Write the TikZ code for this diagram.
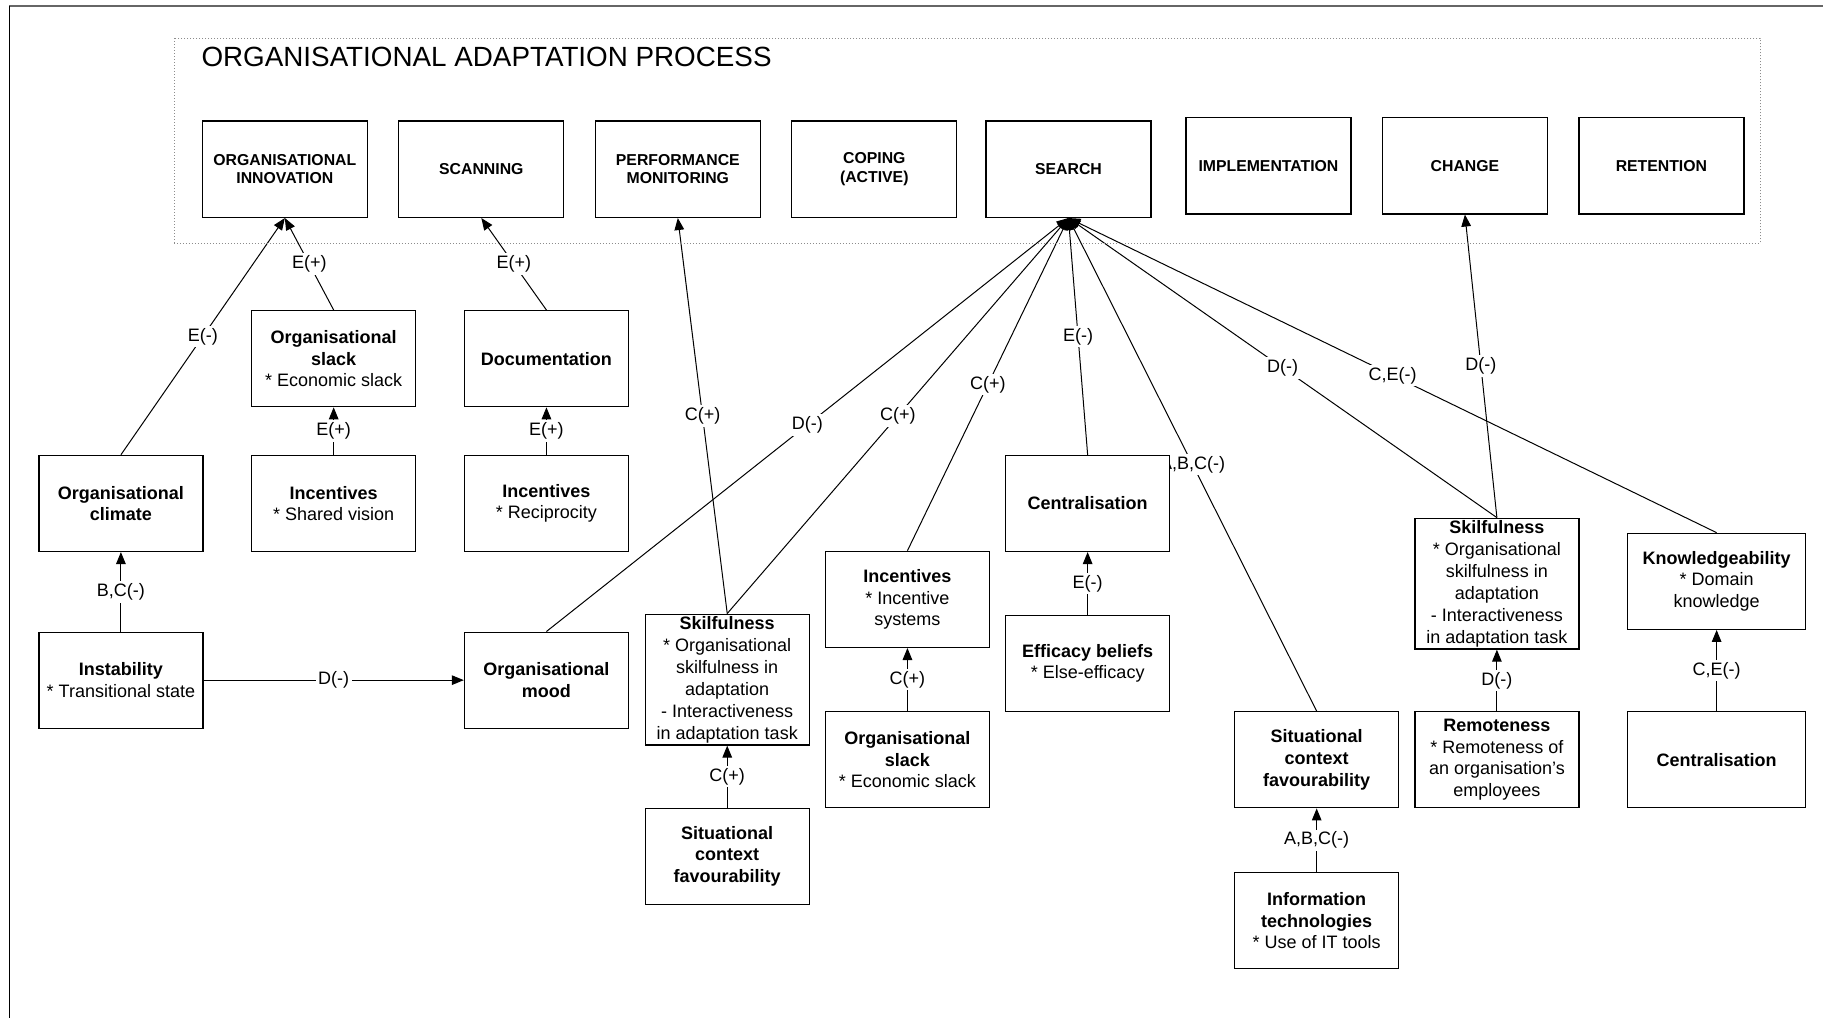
\documentclass[tikz,border=0pt]{standalone}
\usepackage{fontspec}
\setmainfont{Liberation Sans}
\usepackage{tikz}
\usetikzlibrary{arrows.meta,backgrounds}

\tikzset{
  stage/.style={draw, fill=white, line width=0.65pt, align=center, inner sep=1pt,
    minimum width=82.5pt, minimum height=48.2pt, font=\fontsize{7.9}{9.3}\selectfont\bfseries},
  factor/.style={draw, fill=white, line width=0.65pt, align=center, inner sep=1pt,
    minimum width=82pt, minimum height=48pt, font=\fontsize{9}{10.8}\selectfont},
  tallfactor/.style={factor, minimum height=64.3pt, font=\fontsize{9}{11}\selectfont},
  widefactor/.style={factor, minimum width=89pt},
  link/.style={line width=0.5pt, -{Triangle[length=6pt,width=4.8pt]}},
  lbl/.style={fill=white, inner sep=1.2pt, font=\fontsize{9}{10}\selectfont}
}

\begin{document}
\begin{tikzpicture}[x=0.5813pt,y=-0.5813pt]
\useasboundingbox (0,0) rectangle (1568,876);
\draw[black!60, line width=1.1pt] (8,5) -- (1568,5);
\draw[line width=0.6pt] (8,5) -- (8,876);
\draw[densely dotted, black!45, line width=0.5pt] (150,33) rectangle (1514,209);
\node[anchor=west, inner sep=0pt, font=\fontsize{13.9}{16}\selectfont] (title) at (173,49) {ORGANISATIONAL ADAPTATION PROCESS};

\node[stage] (innov) at (245,145.5) {ORGANISATIONAL\\INNOVATION};
\node[stage] (scan) at (414,145.5) {SCANNING};
\node[stage] (perf) at (583,145.5) {PERFORMANCE\\MONITORING};
\node[stage] (coping) at (752,145.5) {COPING\\(ACTIVE)};
\node[stage] (search) at (919,145.5) {SEARCH};
\node[stage] (impl) at (1091,142.5) {IMPLEMENTATION};
\node[stage] (change) at (1260,142.5) {CHANGE};
\node[stage] (retent) at (1429,142.5) {RETENTION};

\node[factor] (climate) at (104,433) {\textbf{Organisational}\\\textbf{climate}};
\node[factor] (instab) at (104,585) {\textbf{Instability}\\* Transitional state};
\node[factor] (slackA) at (287,308.5) {\textbf{Organisational}\\\textbf{slack}\\* Economic slack};
\node[factor] (incentA) at (287,433) {\textbf{Incentives}\\* Shared vision};
\node[factor] (docu) at (470,308.5) {\textbf{Documentation}};
\node[factor] (incentB) at (470,433) {\textbf{Incentives}\\* Reciprocity};
\node[factor] (mood) at (470,585) {\textbf{Organisational}\\\textbf{mood}};
\node[tallfactor] (skillA) at (625.5,584.5) {\textbf{Skilfulness}\\* Organisational\\skilfulness in\\adaptation\\- Interactiveness\\in adaptation task};
\node[factor] (situA) at (625.5,736.5) {\textbf{Situational}\\\textbf{context}\\\textbf{favourability}};
\node[factor] (incentC) at (780.5,515.5) {\textbf{Incentives}\\* Incentive\\systems};
\node[factor] (slackB) at (780.5,653.5) {\textbf{Organisational}\\\textbf{slack}\\* Economic slack};
\node[factor] (centrA) at (935.5,433) {\textbf{Centralisation}};
\node[factor] (effic) at (935.5,570.5) {\textbf{Efficacy beliefs}\\* Else-efficacy};
\node[factor] (situB) at (1132.5,653.5) {\textbf{Situational}\\\textbf{context}\\\textbf{favourability}};
\node[factor] (infotech) at (1132.5,792) {\textbf{Information}\\\textbf{technologies}\\* Use of IT tools};
\node[tallfactor] (skillB) at (1287.5,502) {\textbf{Skilfulness}\\* Organisational\\skilfulness in\\adaptation\\- Interactiveness\\in adaptation task};
\node[factor] (remote) at (1287.5,653.5) {\textbf{Remoteness}\\* Remoteness of\\an organisation's\\employees};
\node[widefactor] (knowl) at (1476.5,500) {\textbf{Knowledgeability}\\* Domain\\knowledge};
\node[widefactor] (centrB) at (1476.5,653.5) {\textbf{Centralisation}};

\begin{pgfonlayer}{background}
\draw[link] (climate.north) -- node[lbl] {E(-)} (innov.south);
\draw[link] (slackA.north) -- node[lbl] {E(+)} (innov.south);
\draw[link] (incentA.north) -- node[lbl] {E(+)} (slackA.south);
\draw[link] (instab.north) -- node[lbl] {B,C(-)} (climate.south);
\draw[link] (instab.east) -- node[lbl] {D(-)} (mood.west);
\draw[link] (docu.north) -- node[lbl] {E(+)} (scan.south);
\draw[link] (incentB.north) -- node[lbl] {E(+)} (docu.south);
\draw[link] (skillA.north) -- node[lbl] {C(+)} (perf.south);
\draw[link] (situA.north) -- node[lbl] {C(+)} (skillA.south);
\draw[link] (mood.north) -- node[lbl] {D(-)} (search.south);
\draw[link] (skillA.north) -- node[lbl] {C(+)} (search.south);
\draw[link] (incentC.north) -- node[lbl] {C(+)} (search.south);
\draw[link] (slackB.north) -- node[lbl] {C(+)} (incentC.south);
\draw[link] (centrA.north) -- node[lbl] {E(-)} (search.south);
\draw[link] (effic.north) -- node[lbl] {E(-)} (centrA.south);
\draw[link] (situB.north) -- node[lbl] {A,B,C(-)} (search.south);
\draw[link] (infotech.north) -- node[lbl] {A,B,C(-)} (situB.south);
\draw[link] (skillB.north) -- node[lbl] {D(-)} (search.south);
\draw[link] (knowl.north) -- node[lbl] {C,E(-)} (search.south);
\draw[link] (skillB.north) -- node[lbl] {D(-)} (change.south);
\draw[link] (remote.north) -- node[lbl] {D(-)} (skillB.south);
\draw[link] (centrB.north) -- node[lbl] {C,E(-)} (knowl.south);
\end{pgfonlayer}
\end{tikzpicture}
\end{document}
